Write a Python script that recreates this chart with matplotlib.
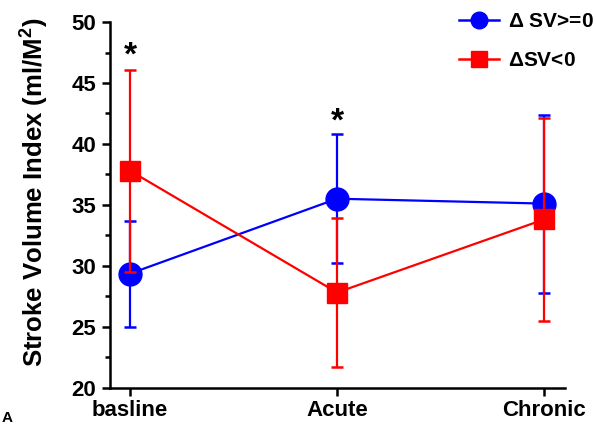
import matplotlib
matplotlib.use("Agg")
import matplotlib.pyplot as plt
from matplotlib.lines import Line2D
import numpy as np

categories = ["basline", "Acute", "Chronic"]
sv_pos_mean = [29.35, 35.5, 35.1]
sv_pos_err = [4.35, 5.3, 7.3]
sv_neg_mean = [37.8, 27.8, 33.8]
sv_neg_err = [8.3, 6.1, 8.3]
yticks = [20, 25, 30, 35, 40, 45, 50]
star_positions = [(0, 46.2), (1, 40.8)]
legend_labels = ['$\\mathrm{\\Delta}$ SV>=0', '$\\mathrm{\\Delta}$SV<0']

plt.rcParams['font.family'] = ['Liberation Sans', 'DejaVu Sans']
plt.rcParams['font.weight'] = 'bold'
plt.rcParams['mathtext.fontset'] = 'custom'
plt.rcParams['mathtext.rm'] = 'Liberation Sans'
plt.rcParams['mathtext.bf'] = 'Liberation Sans:bold'

fig = plt.figure(figsize=(5.96, 4.25), dpi=100)
ax = fig.add_axes([0.1846, 0.0882, 0.948 - 0.1846, 0.948 - 0.0882])
x = np.arange(len(categories))

ax.errorbar(x, sv_pos_mean, yerr=sv_pos_err, color='#0000FF', marker='o',
            markersize=16.5, linewidth=1.6, elinewidth=1.6, capsize=4.5, capthick=1.8,
            zorder=3)
ax.errorbar(x, sv_neg_mean, yerr=sv_neg_err, color='#FF0000', marker='s',
            markersize=15, linewidth=1.6, elinewidth=1.6, capsize=4.5, capthick=1.8,
            zorder=4)

for sx, sy in star_positions:
    ax.text(sx, sy - 0.3, '*', ha='center', va='bottom', fontsize=24,
            fontweight='bold', color='black')

ax.set_xlim(-0.0966, 2.101)
ax.set_ylim(20, 50)
ax.set_xticks(x)
ax.set_xticklabels(categories, fontsize=16, fontweight='bold')
ax.set_yticks(yticks)
ax.set_yticks(np.arange(22.5, 50, 5), minor=True)
ax.set_yticklabels([str(t) for t in yticks], fontsize=16, fontweight='bold')
ax.tick_params(axis='both', which='major', direction='out', length=6, width=1.8)
ax.tick_params(axis='y', which='minor', direction='out', length=3.5, width=1.8)
ax.tick_params(axis='x', pad=3)
ax.tick_params(axis='y', pad=4)
for side in ['top', 'right']:
    ax.spines[side].set_visible(False)
for side in ['left', 'bottom']:
    ax.spines[side].set_linewidth(1.8)

ax.set_ylabel('Stroke Volume Index (ml/M$^\\mathbf{2}$)', fontsize=18.5, fontweight='bold')
ax.yaxis.set_label_coords(-0.133, 0.535)

handles = [Line2D([], [], color='#0000FF', marker='o', markersize=12, linewidth=1.8),
           Line2D([], [], color='#FF0000', marker='s', markersize=11, linewidth=1.8)]
leg = fig.legend(handles, legend_labels, loc='upper left',
                 bbox_to_anchor=(459 / 596, 1 - 12 / 425), frameon=False,
                 fontsize=15, handlelength=1.92, labelspacing=0.95,
                 handletextpad=0.43, borderpad=0, borderaxespad=0)
for t in leg.get_texts():
    t.set_fontweight('bold')

fig.text(0.002, 0.0, 'A', fontsize=11, fontweight='bold', ha='left', va='bottom')

fig.savefig('out.png', dpi=100)
